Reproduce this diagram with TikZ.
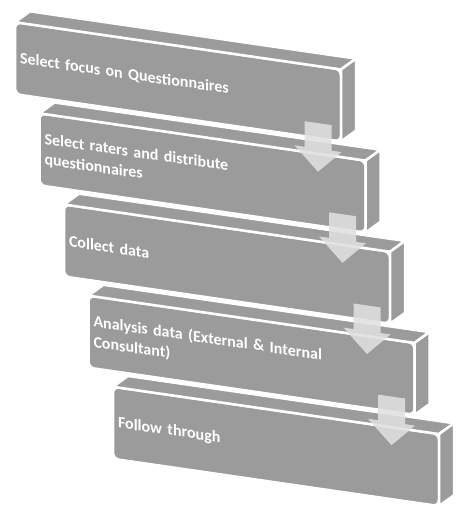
\documentclass[tikz,border=0pt]{standalone}
\usepackage{fontspec}
\setmainfont{Carlito}
\usetikzlibrary{positioning,calc}
\definecolor{boxgray}{RGB}{155,155,155}
\definecolor{arrowgray}{RGB}{224,224,224}

\begin{document}
\begin{tikzpicture}[x=1pt,y=1pt,
	stage/.style={rectangle, rounded corners=6pt, fill=boxgray, draw=white,
		line width=2.5pt, minimum width=326pt, minimum height=72pt,
		text width=316pt, inner xsep=5pt, align=left, anchor=north west,
		outer sep=0pt, text=white, font=\bfseries\fontsize{16}{20.5}\selectfont},
	side/.style={fill=boxgray, draw=white, line width=2.5pt, line join=round},
	flow/.style={fill=arrowgray, fill opacity=0.88}]
	\useasboundingbox (0,0) rectangle (469,-517);
	\begin{scope}[yslant=-0.145, transform shape]
	% the five steps
	\node[stage] (s1) at (15,-20) {Select focus on Questionnaires};
	\node[stage] (s2) at (39.5,-107.6) {Select raters and distribute\\questionnaires};
	\node[stage] (s3) at (64,-195.2) {Collect data};
	\node[stage] (s4) at (88.5,-282.8) {Analysis data (External \& Internal\\Consultant)};
	\node[stage] (s5) at (113,-370.4) {Follow through};
	% top and right faces
	\foreach \s in {s1,s2,s3,s4,s5} {
		\draw[side] (\s.north west) -- ++(15,13) -- ++(326,0) -- (\s.north east) -- cycle;
		\draw[side] (\s.north east) -- ++(15,13) -- ++(0,-72) -- (\s.south east) -- cycle;
	}
	% arrows between steps
	\foreach \a/\b in {s1/s2,s2/s3,s3/s4,s4/s5}
		\fill[flow] ($(\a.south east)+(-36.5,15)$) -- ($(\a.south east)+(-9.5,15)$)
			-- ($(\b.north east)+(-34,5)$) -- ($(\b.north east)+(-24,5)$)
			-- ($(\b.north east)+(-47.5,-18)$) -- ($(\b.north east)+(-71,5)$)
			-- ($(\b.north east)+(-61,5)$) -- cycle;
	\end{scope}
\end{tikzpicture}
\end{document}
